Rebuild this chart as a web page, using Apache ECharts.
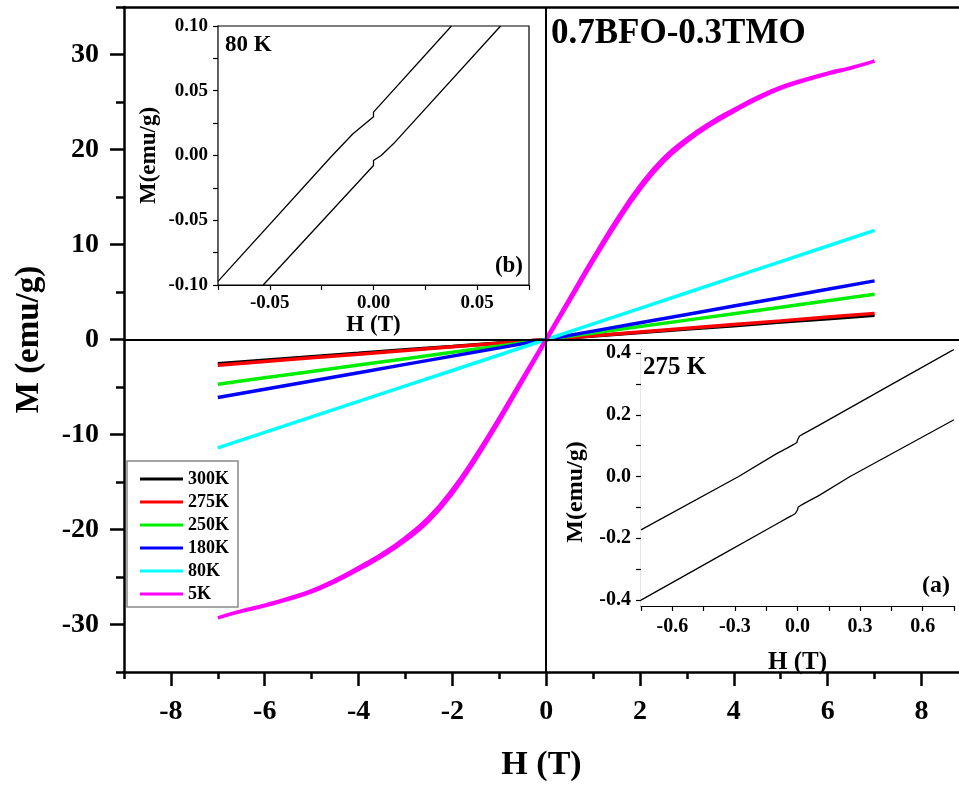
<!DOCTYPE html>
<html>
<head>
<meta charset="utf-8">
<script src="https://cdn.jsdelivr.net/npm/echarts@6/dist/echarts.min.js"></script>
<style>
html,body{margin:0;padding:0;background:#fff;}
#c{width:959px;height:787px;}
</style>
</head>
<body>
<div id="c"></div>
<script>
// ---------- data ----------
const H_MAIN = [-7,-6,-5,-4,-3,-2,-1,0,1,2,3,4,5,6,7];
const M_300K = [-2.55,-2.18,-1.82,-1.46,-1.09,-0.73,-0.36,0,0.37,0.73,1.10,1.46,1.83,2.19,2.55];
const M_275K = [-2.70,-2.32,-1.93,-1.55,-1.16,-0.77,-0.39,0,0.39,0.79,1.18,1.57,1.96,2.36,2.75];
const M_250K = [-4.70,-4.03,-3.36,-2.69,-2.02,-1.35,-0.68,0,0.68,1.36,2.04,2.72,3.40,4.08,4.76];
const M_180K = [-6.10,-5.23,-4.36,-3.49,-2.62,-1.75,-0.88,0,0.88,1.76,2.64,3.52,4.40,5.28,6.17];
const M_80K  = [-11.40,-9.78,-8.15,-6.52,-4.89,-3.26,-1.63,0,1.64,3.28,4.92,6.56,8.20,9.84,11.48];

const H_5K_DOWN = [7,6.5,6,5.5,5,4.5,4,3.5,3,2.5,2,1.5,1,0.5,0,-0.5,-1,-1.5,-2,-2.5,-3,-3.5,-4,-4.5,-5,-5.5,-6,-6.5,-7];
const M_5K_DOWN = [29.3,28.62,28.04,27.35,26.56,25.48,24.2,22.83,21.15,19.08,16.2,12.6,8.58,4.35,0.12,-4.05,-8.22,-12.2,-15.8,-18.72,-20.85,-22.57,-24.0,-25.32,-26.44,-27.25,-27.96,-28.58,-29.3];
const H_5K_UP = [-7,-6.5,-6,-5.5,-5,-4.5,-4,-3.5,-3,-2.5,-2,-1.5,-1,-0.5,0,0.5,1,1.5,2,2.5,3,3.5,4,4.5,5,5.5,6,6.5,7];
const M_5K_UP = [-29.3,-28.62,-28.04,-27.35,-26.56,-25.48,-24.2,-22.83,-21.15,-19.08,-16.2,-12.6,-8.58,-4.35,-0.12,4.05,8.22,12.2,15.8,18.72,20.85,22.57,24.0,25.32,26.44,27.25,27.96,28.58,29.3];

// inset (b) 80 K
const H_80K_DOWN = [0.0376,0.0,0.0,-0.0099,-0.0199,-0.0750];
const M_80K_DOWN = [0.100,0.0335,0.0300,0.0168,0.0000,-0.0972];
const H_80K_UP = [-0.0532,0.0,0.0,0.0037,0.0096,0.0613];
const M_80K_UP = [-0.100,-0.0077,-0.0039,0.0000,0.0090,0.100];

// inset (a) 275 K
const H_275K_DOWN = [0.75,0.40,0.10,0.05,0.03,0.01,0.003,0.0,-0.003,-0.01,-0.02,-0.05,-0.10,-0.282,-0.75];
const M_275K_DOWN = [0.412,0.279,0.165,0.146,0.139,0.131,0.126,0.118,0.110,0.107,0.103,0.092,0.074,0.0,-0.173];
const H_275K_UP = [-0.75,-0.40,-0.10,-0.05,-0.03,-0.01,-0.003,0.0,0.003,0.01,0.02,0.05,0.10,0.252,0.75];
const M_275K_UP = [-0.401,-0.268,-0.154,-0.135,-0.128,-0.120,-0.116,-0.108,-0.100,-0.096,-0.092,-0.081,-0.063,0.0,0.184];

const LEGEND_NAMES = ['300K','275K','250K','180K','80K','5K'];
const MAIN_X_MAJOR = [-8,-6,-4,-2,0,2,4,6,8];
const MAIN_X_MINOR = [-9,-7,-5,-3,-1,1,3,5,7];
const MAIN_Y_MAJOR = [-30,-20,-10,0,10,20,30];
const MAIN_Y_MINOR = [-35,-25,-15,-5,5,15,25,35];
const INA_Y_TICKS = [-0.4,-0.3,-0.2,-0.1,0,0.1,0.2,0.3,0.4];
const INA_Y_LABELS = [-0.4,-0.2,0,0.2,0.4];

// ---------- build ----------
const zip = (h, m) => h.map((v, i) => [v, m[i]]);
const FONT = 'Liberation Serif';
const bold = (size) => ({fontFamily: FONT, fontWeight: 'bold', fontSize: size, color: '#000'});
const isMult = (v, s) => Math.abs(v / s - Math.round(v / s)) < 1e-6;

const chart = echarts.init(document.getElementById('c'), null, {renderer: 'canvas'});

const mainLine = (name, color, data, smooth) => ({
  name, type: 'line', xAxisIndex: 0, yAxisIndex: 0, data,
  showSymbol: false, symbol: 'none', smooth: smooth,
  lineStyle: {color, width: 3.5}, itemStyle: {color},
  emphasis: {disabled: true}, z: 3
});
const insetLine = (xi, yi, data, extra) => Object.assign({
  type: 'line', xAxisIndex: xi, yAxisIndex: yi, data,
  showSymbol: false, symbol: 'none',
  lineStyle: {color: '#000', width: 1.3}, itemStyle: {color: '#000'},
  emphasis: {disabled: true}, z: 12
}, extra || {});
const zeroLines = (w) => ({
  silent: true, symbol: ['none', 'none'], label: {show: false},
  lineStyle: {color: '#000', width: w, type: 'solid'},
  data: [{xAxis: 0}, {yAxis: 0}], animation: false
});

const X_MIN = -9, X_MAX = 8.8;

const option = {
  animation: false,
  backgroundColor: '#fff',
  grid: [
    {left: 124, top: 7, width: 835, height: 668, show: false},
    {left: 218, top: 26, width: 311, height: 259, show: true, backgroundColor: '#fff', borderColor: '#000', borderWidth: 1.2, z: 10},
    {left: 641, top: 350, width: 313, height: 256, show: true, backgroundColor: '#fff', borderWidth: 0, z: 10}
  ],
  legend: {
    data: LEGEND_NAMES, orient: 'vertical', left: 127, top: 461,
    icon: 'rect', itemWidth: 43, itemHeight: 3, itemGap: 5,
    padding: [9, 9, 4, 13], borderColor: '#888', borderWidth: 1.5,
    backgroundColor: '#fff',
    textStyle: Object.assign(bold(18), {lineHeight: 18}),
    selectedMode: false
  },
  xAxis: [
    { // main bottom
      gridIndex: 0, type: 'value', min: X_MIN, max: X_MAX, position: 'bottom',
      axisLine: {show: true, onZero: false, lineStyle: {color: '#000', width: 2.5}},
      axisTick: {show: true, customValues: MAIN_X_MAJOR, length: 14, lineStyle: {color: '#000', width: 2.5}},
      axisLabel: Object.assign(bold(28), {customValues: MAIN_X_MAJOR, margin: 26}),
      splitLine: {show: false},
      name: 'H (T)', nameLocation: 'middle', nameGap: 76, nameTextStyle: bold(34)
    },
    { // main minor ticks
      gridIndex: 0, type: 'value', min: X_MIN, max: X_MAX, position: 'bottom',
      axisLine: {show: false, onZero: false},
      axisTick: {show: true, customValues: MAIN_X_MINOR, length: 7, lineStyle: {color: '#000', width: 2.5}},
      axisLabel: {show: false}, splitLine: {show: false}
    },
    { // top frame
      gridIndex: 0, type: 'value', min: X_MIN, max: X_MAX, position: 'top',
      axisLine: {show: true, onZero: false, lineStyle: {color: '#000', width: 2.5}},
      axisTick: {show: false}, axisLabel: {show: false}, splitLine: {show: false}
    },
    { // inset b
      gridIndex: 1, type: 'value', min: -0.075, max: 0.075, interval: 0.025,
      axisLine: {show: true, onZero: false, lineStyle: {color: '#000', width: 1.2}},
      axisTick: {show: true, length: 5, lineStyle: {color: '#000', width: 1.2}},
      axisLabel: Object.assign(bold(19), {margin: 9, formatter: v => isMult(v, 0.05) ? v.toFixed(2) : ''}),
      splitLine: {show: false},
      name: 'H (T)', nameLocation: 'middle', nameGap: 29, nameTextStyle: bold(23)
    },
    { // inset a
      gridIndex: 2, type: 'value', min: -0.75, max: 0.75, interval: 0.15,
      axisLine: {show: true, onZero: false, lineStyle: {color: '#000', width: 1.2}},
      axisTick: {show: true, length: 5, lineStyle: {color: '#000', width: 1.2}},
      axisLabel: Object.assign(bold(20), {margin: 11, formatter: v => isMult(v, 0.3) ? v.toFixed(1) : ''}),
      splitLine: {show: false},
      name: 'H (T)', nameLocation: 'middle', nameGap: 44, nameTextStyle: bold(25)
    }
  ],
  yAxis: [
    { // main
      gridIndex: 0, type: 'value', min: -35, max: 35, position: 'left',
      axisLine: {show: true, onZero: false, lineStyle: {color: '#000', width: 2.5}},
      axisTick: {show: true, customValues: MAIN_Y_MAJOR, length: 14, lineStyle: {color: '#000', width: 2.5}},
      axisLabel: Object.assign(bold(28), {customValues: MAIN_Y_MAJOR, margin: 25}),
      splitLine: {show: false},
      name: 'M (emu/g)', nameLocation: 'middle', nameGap: 78, nameTextStyle: bold(33)
    },
    { // main minor
      gridIndex: 0, type: 'value', min: -35, max: 35, position: 'left',
      axisLine: {show: false, onZero: false},
      axisTick: {show: true, customValues: MAIN_Y_MINOR, length: 8, lineStyle: {color: '#000', width: 2.5}},
      axisLabel: {show: false}, splitLine: {show: false}
    },
    { // inset b
      gridIndex: 1, type: 'value', min: -0.1, max: 0.1, interval: 0.025,
      axisLine: {show: true, onZero: false, lineStyle: {color: '#000', width: 1.2}},
      axisTick: {show: true, length: 5, lineStyle: {color: '#000', width: 1.2}},
      axisLabel: Object.assign(bold(19), {margin: 10, formatter: v => isMult(v, 0.05) ? v.toFixed(2) : ''}),
      splitLine: {show: false},
      name: 'M(emu/g)', nameLocation: 'middle', nameGap: 57, nameTextStyle: bold(23)
    },
    { // inset a
      gridIndex: 2, type: 'value', min: -0.42, max: 0.41,
      axisLine: {show: true, onZero: false, lineStyle: {color: '#000', width: 1.2}},
      axisTick: {show: true, customValues: INA_Y_TICKS, length: 5, lineStyle: {color: '#000', width: 1.2}},
      axisLabel: Object.assign(bold(20), {customValues: INA_Y_LABELS, margin: 10, formatter: v => v.toFixed(1)}),
      splitLine: {show: false},
      name: 'M(emu/g)', nameLocation: 'middle', nameGap: 53, nameTextStyle: Object.assign(bold(24), {padding: [0, 28, 0, 0]})
    }
  ],
  series: [
    Object.assign(mainLine('300K', '#000000', zip(H_MAIN, M_300K), false), {markLine: zeroLines(2)}),
    mainLine('275K', '#ff0000', zip(H_MAIN, M_275K), false),
    mainLine('250K', '#00ee00', zip(H_MAIN, M_250K), false),
    mainLine('180K', '#0000ff', zip(H_MAIN, M_180K), false),
    mainLine('80K',  '#00ffff', zip(H_MAIN, M_80K), false),
    mainLine('5K',   '#ff00ff', zip(H_5K_DOWN, M_5K_DOWN).concat(zip(H_5K_UP, M_5K_UP)), 0.5),
    insetLine(3, 2, zip(H_80K_DOWN, M_80K_DOWN), {name: 'b-down', markLine: zeroLines(1)}),
    insetLine(3, 2, zip(H_80K_UP, M_80K_UP), {name: 'b-up'}),
    insetLine(4, 3, zip(H_275K_DOWN, M_275K_DOWN), {name: 'a-down', markLine: zeroLines(1)}),
    insetLine(4, 3, zip(H_275K_UP, M_275K_UP), {name: 'a-up'})
  ],
  graphic: [
    {type: 'text', x: 551, y: 34, z: 100, style: {text: '0.7BFO-0.3TMO', font: 'bold 35px "Liberation Serif"', fill: '#000', align: 'left', verticalAlign: 'middle', textAlign: 'left', textVerticalAlign: 'middle'}},
    {type: 'text', x: 225, y: 45, z: 100, style: {text: '80 K', font: 'bold 23px "Liberation Serif"', fill: '#000', align: 'left', verticalAlign: 'middle', textAlign: 'left', textVerticalAlign: 'middle'}},
    {type: 'text', x: 523, y: 266, z: 100, style: {text: '(b)', font: 'bold 23px "Liberation Serif"', fill: '#000', align: 'right', verticalAlign: 'middle', textAlign: 'right', textVerticalAlign: 'middle'}},
    {type: 'text', x: 643, y: 368, z: 100, style: {text: '275 K', font: 'bold 25px "Liberation Serif"', fill: '#000', align: 'left', verticalAlign: 'middle', textAlign: 'left', textVerticalAlign: 'middle'}},
    {type: 'text', x: 950, y: 586, z: 100, style: {text: '(a)', font: 'bold 24px "Liberation Serif"', fill: '#000', align: 'right', verticalAlign: 'middle', textAlign: 'right', textVerticalAlign: 'middle'}}
  ]
};
chart.setOption(option);
</script>
</body>
</html>
